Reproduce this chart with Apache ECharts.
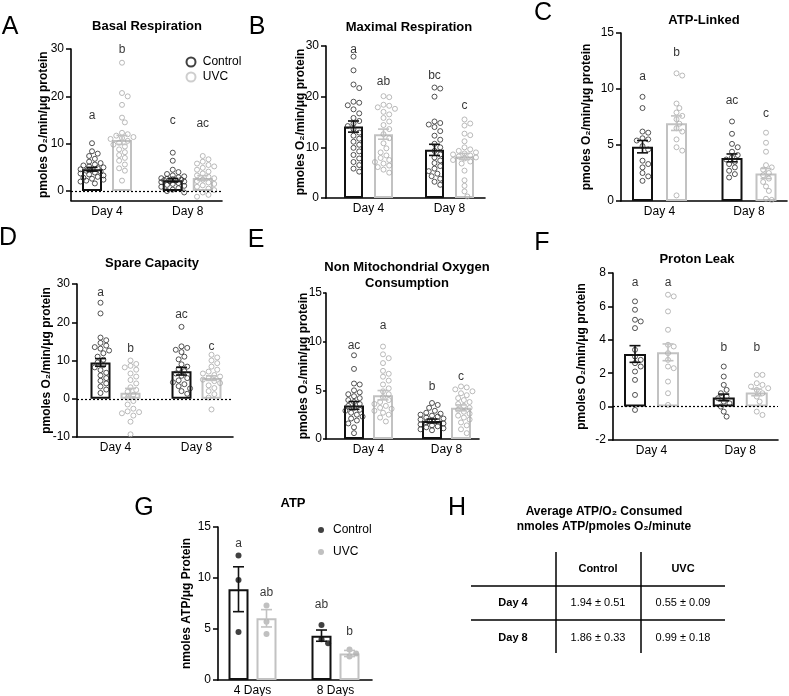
<!DOCTYPE html>
<html><head><meta charset="utf-8">
<script src="https://cdn.jsdelivr.net/npm/echarts@6/dist/echarts.min.js"></script>
<style>html,body{margin:0;padding:0;background:#fff}#c{width:789px;height:696px}</style>
</head><body><div id="c"></div>
<script>
const FONT = '"Liberation Sans", Arial, Helvetica, sans-serif';

// ---------- DATA ----------
const dayLabels = ['Day 4', 'Day 8'];
const atpDayLabels = ['4 Days', '8 Days'];
const seriesNames = ['Control', 'UVC'];
const o2Name = 'pmoles O\u2082/min/\u03bcg protein';
const atpName = 'nmoles ATP/\u03bcg Protein';

// A: Basal Respiration (order: ctrl D4, uvc D4, ctrl D8, uvc D8)
const basalCtrlD4 = [10.1, 8.4, 7.9, 7.4, 6.8, 6.2, 5.9, 5.6, 5.4, 5.2, 5.0, 4.8, 4.6, 4.5, 4.3, 4.1, 3.9, 3.7, 3.5, 3.3, 3.0, 2.8, 2.6, 2.4, 2.2, 2.0, 1.6];
const basalUvcD4 = [27.1, 20.7, 20.0, 18.2, 15.5, 14.5, 12.3, 12.0, 11.7, 11.4, 11.2, 11.0, 10.6, 10.2, 9.8, 9.4, 8.8, 8.2, 7.6, 7.0, 6.4, 5.6, 4.8, 4.3, 2.2];
const basalCtrlD8 = [8.1, 6.4, 4.5, 4.0, 3.6, 3.3, 3.1, 2.9, 2.7, 2.6, 2.5, 2.4, 2.3, 2.2, 2.1, 2.0, 1.9, 1.7, 1.5, 1.3, 1.1, 0.9, 0.6, 0.3, 0.0, -0.3];
const basalUvcD8 = [7.4, 6.7, 6.2, 5.8, 5.5, 5.2, 4.9, 4.5, 4.1, 3.7, 3.3, 3.0, 2.7, 2.4, 2.1, 1.8, 1.5, 1.2, 0.9, 0.5, 0.2, -0.3, -0.8, -1.2];
const basalMean = [4.6, 10.8, 2.3, 2.75];
const basalSem = [0.4, 0.95, 0.35, 0.5];
const basalLetters = ['a', 'b', 'c', 'ac'];
const basalLetterY = [16, 29.8, 14.8, 14.2];
const basalTicks = [0, 10, 20, 30];

// B: Maximal Respiration
const maxCtrlD4 = [27.9, 25.2, 22.4, 21.7, 19.0, 18.8, 18.3, 17.5, 16.7, 15.8, 15.2, 14.7, 14.2, 13.6, 12.9, 12.3, 11.7, 11.1, 10.5, 9.9, 9.2, 8.5, 7.8, 7.1, 6.5, 5.8, 5.2];
const maxUvcD4 = [20.1, 19.9, 18.4, 18.2, 17.9, 17.6, 17.0, 16.5, 15.8, 15.1, 14.4, 13.6, 12.6, 11.8, 10.8, 9.8, 9.0, 8.4, 7.9, 7.5, 7.1, 6.8, 6.4, 6.1, 5.6, 5.0];
const maxCtrlD8 = [21.8, 21.6, 20.0, 15.1, 14.8, 14.5, 14.0, 13.2, 12.3, 11.5, 10.7, 10.0, 9.3, 8.6, 8.0, 7.4, 6.9, 6.3, 5.8, 5.3, 4.8, 4.3, 3.8, 3.2, 2.6];
const maxUvcD8 = [15.5, 14.7, 14.3, 12.7, 12.4, 11.2, 10.0, 9.6, 9.3, 9.0, 8.8, 8.6, 8.4, 8.2, 8.0, 7.8, 7.5, 7.2, 6.8, 5.4, 3.5, 2.4, 1.3, 0.3];
const maxMean = [14.1, 12.6, 9.5, 8.2];
const maxSem = [1.1, 1.0, 1.1, 0.6];
const maxLetters = ['a', 'ab', 'bc', 'c'];
const maxLetterY = [29.2, 22.9, 24.1, 18.2];
const maxTicks = [0, 10, 20, 30];

// C: ATP-Linked
const atplCtrlD4 = [9.3, 8.3, 6.2, 6.1, 5.6, 5.5, 5.4, 4.9, 4.6, 3.6, 3.3, 3.0, 2.5, 2.2, 1.8];
const atplUvcD4 = [11.4, 11.2, 8.7, 8.3, 7.9, 7.6, 7.3, 6.9, 6.5, 6.2, 5.5, 4.8, 4.5, 0.5];
const atplCtrlD8 = [7.1, 6.0, 5.1, 4.8, 4.4, 4.1, 3.9, 3.7, 3.5, 3.3, 3.0, 2.7, 2.4, 2.1];
const atplUvcD8 = [6.1, 5.2, 4.4, 3.2, 3.0, 2.8, 2.5, 2.3, 2.0, 1.7, 1.3, 0.9, 0.2, 0.1];
const atplMean = [4.85, 6.95, 3.85, 2.45];
const atplSem = [0.55, 0.65, 0.35, 0.45];
const atplLetters = ['a', 'b', 'ac', 'c'];
const atplLetterY = [11.1, 13.2, 9.0, 7.8];
const atplTicks = [0, 5, 10, 15];

// D: Spare Capacity
const spareCtrlD4 = [25.1, 22.3, 16.0, 15.3, 14.6, 13.9, 13.5, 13.1, 12.6, 11.9, 11.0, 10.2, 9.5, 8.8, 8.2, 7.5, 6.8, 6.1, 5.4, 4.7, 4.0, 3.2, 2.4, 1.5];
const spareUvcD4 = [10.0, 9.1, 8.6, 8.2, 7.6, 6.6, 5.8, 4.9, 4.0, 3.0, 2.3, 1.8, 1.0, 0.3, -0.6, -1.5, -2.6, -3.3, -3.5, -3.8, -4.4, -6.0, -9.3];
const spareCtrlD8 = [18.8, 13.7, 13.3, 12.8, 12.2, 11.0, 10.3, 9.0, 8.4, 7.8, 7.2, 6.6, 6.0, 5.4, 4.8, 4.3, 3.8, 3.3, 2.7, 2.0, 1.3];
const spareUvcD8 = [11.5, 10.8, 10.0, 9.3, 8.4, 7.6, 7.1, 6.6, 6.2, 5.8, 5.4, 5.0, 4.6, 4.1, 3.5, 2.8, 2.0, 1.2, 0.3, -2.8];
const spareMean = [9.5, 1.6, 7.2, 5.4];
const spareSem = [1.0, 1.1, 1.0, 0.6];
const spareLetters = ['a', 'b', 'ac', 'c'];
const spareLetterY = [27.7, 13.1, 22.0, 13.6];
const spareTicks = [-10, 0, 10, 20, 30];

// E: Non Mitochondrial Oxygen Consumption
const nmCtrlD4 = [8.6, 7.2, 5.7, 5.6, 5.0, 4.8, 4.6, 4.4, 4.2, 4.0, 3.8, 3.6, 3.4, 3.2, 3.0, 2.9, 2.7, 2.5, 2.3, 2.1, 1.9, 1.6, 1.2, 0.6];
const nmUvcD4 = [9.5, 8.7, 8.3, 7.8, 7.0, 6.7, 6.4, 6.0, 5.6, 5.2, 4.9, 4.6, 4.3, 4.0, 3.8, 3.6, 3.4, 3.2, 3.1, 2.9, 2.7, 2.5, 2.2, 1.8];
const nmCtrlD8 = [3.7, 3.5, 3.2, 2.9, 2.7, 2.6, 2.5, 2.4, 2.3, 2.2, 2.1, 2.0, 1.9, 1.8, 1.7, 1.6, 1.5, 1.4, 1.3, 1.2, 1.1, 1.0, 0.9];
const nmUvcD8 = [5.4, 5.3, 5.1, 4.9, 4.7, 4.5, 4.2, 4.0, 3.8, 3.6, 3.4, 3.2, 3.0, 2.8, 2.6, 2.4, 2.2, 2.0, 1.7, 1.4, 1.0, 0.6];
const nmMean = [3.45, 4.5, 1.85, 3.2];
const nmSem = [0.4, 0.48, 0.2, 0.3];
const nmLetters = ['ac', 'a', 'b', 'c'];
const nmLetterY = [9.6, 11.6, 5.4, 6.4];
const nmTicks = [0, 5, 10, 15];

// F: Proton Leak
const plCtrlD4 = [6.3, 5.8, 5.2, 5.1, 4.7, 3.4, 3.0, 2.8, 2.6, 2.4, 2.1, 1.6, 0.7, -0.2];
const plUvcD4 = [6.7, 6.6, 5.7, 4.6, 3.7, 3.6, 3.2, 2.8, 2.4, 2.3, 1.5, 0.8, 0.1];
const plCtrlD8 = [2.4, 1.8, 1.3, 1.0, 0.8, 0.6, 0.5, 0.3, 0.2, 0.0, -0.3, -0.6];
const plUvcD8 = [1.9, 1.9, 1.4, 1.3, 1.2, 1.1, 1.0, 0.8, 0.6, 0.3, -0.3, -0.5];
const plMean = [3.15, 3.25, 0.55, 0.85];
const plSem = [0.5, 0.5, 0.2, 0.2];
const plLetters = ['a', 'a', 'b', 'b'];
const plLetterY = [7.4, 7.4, 3.5, 3.5];
const plTicks = [-2, 0, 2, 4, 6, 8];

// G: ATP
const atpCtrl4 = [12.2, 9.8, 4.7];
const atpUvc4 = [7.3, 5.7, 4.5];
const atpCtrl8 = [5.4, 4.0, 3.6];
const atpUvc8 = [3.0, 2.6, 2.3];
const atpMean = [8.9, 6.05, 4.35, 2.6];
const atpSem = [2.2, 0.85, 0.55, 0.3];
const atpLetters = ['a', 'ab', 'ab', 'b'];
const atpLetterY = [13.4, 8.6, 7.35, 4.7];
const atpTicks = [0, 5, 10, 15];

// H: ATP / O2 table
const tableTitle = ['Average ATP/O\u2082 Consumed', 'nmoles ATP/pmoles O\u2082/minute'];
const tableRows = ['Day 4', 'Day 8'];
const tableCols = ['Control', 'UVC'];
const ratioMean = [[1.94, 0.55], [1.86, 0.99]];
const ratioSem = [[0.51, 0.09], [0.33, 0.18]];

// ---------- LAYOUT ----------
const CTRL_BAR = '#111111', UVC_BAR = '#c2c2c2';
const CTRL_DOT = '#2a2a2a', UVC_DOT = '#a9a9a9';

const panels = [
  { id: 'A', titles: ['Basal Respiration'], titleXY: [147, 26], letterXY: [10, 27],
    grid: { left: 71, top: 49, width: 151, height: 151.5 }, ymin: -2, ymax: 30, ticks: basalTicks,
    x0: 36, x1: 116.75, half: 15, barW: 20, zero: true, yName: o2Name, nameGap: 21, labMargin: 7, tickLen: 5, xLabels: dayLabels,
    groups: [basalCtrlD4, basalUvcD4, basalCtrlD8, basalUvcD8], mean: basalMean, sem: basalSem,
    letters: basalLetters, letterY: basalLetterY, filled: false },
  { id: 'B', titles: ['Maximal Respiration'], titleXY: [409, 27], letterXY: [257, 27],
    grid: { left: 326, top: 46, width: 159, height: 152 }, ymin: 0, ymax: 30, ticks: maxTicks,
    x0: 42.5, x1: 123.5, half: 15, barW: 19, zero: false, yName: o2Name, nameGap: 19, labMargin: 7, tickLen: 5, xLabels: dayLabels,
    groups: [maxCtrlD4, maxUvcD4, maxCtrlD8, maxUvcD8], mean: maxMean, sem: maxSem,
    letters: maxLetters, letterY: maxLetterY, filled: false },
  { id: 'C', titles: ['ATP-Linked'], titleXY: [704, 20], letterXY: [543, 13],
    grid: { left: 621, top: 33, width: 166, height: 168 }, ymin: 0, ymax: 15, ticks: atplTicks,
    x0: 38.5, x1: 128, half: 17, barW: 21, zero: false, yName: o2Name, nameGap: 28.5, labMargin: 7, tickLen: 5, xLabels: dayLabels,
    groups: [atplCtrlD4, atplUvcD4, atplCtrlD8, atplUvcD8], mean: atplMean, sem: atplSem,
    letters: atplLetters, letterY: atplLetterY, filled: false },
  { id: 'D', titles: ['Spare Capacity'], titleXY: [152, 263], letterXY: [8, 238],
    grid: { left: 77, top: 284, width: 156, height: 153 }, ymin: -10, ymax: 30, ticks: spareTicks,
    x0: 38.5, x1: 119.5, half: 15, barW: 20, zero: true, yName: o2Name, nameGap: 24.5, labMargin: 7, tickLen: 5, xLabels: dayLabels,
    groups: [spareCtrlD4, spareUvcD4, spareCtrlD8, spareUvcD8], mean: spareMean, sem: spareSem,
    letters: spareLetters, letterY: spareLetterY, filled: false },
  { id: 'E', titles: ['Non Mitochondrial Oxygen', 'Consumption'], titleXY: [407, 267], letterXY: [256, 240],
    grid: { left: 326, top: 293, width: 153, height: 146 }, ymin: 0, ymax: 15, ticks: nmTicks,
    x0: 42.5, x1: 120.5, half: 14.5, barW: 20, zero: false, yName: o2Name, nameGap: 16, labMargin: 4, tickLen: 3, xLabels: dayLabels,
    groups: [nmCtrlD4, nmUvcD4, nmCtrlD8, nmUvcD8], mean: nmMean, sem: nmSem,
    letters: nmLetters, letterY: nmLetterY, filled: false },
  { id: 'F', titles: ['Proton Leak'], titleXY: [697, 259], letterXY: [542, 243],
    grid: { left: 613, top: 273, width: 165, height: 167 }, ymin: -2, ymax: 8, ticks: plTicks,
    x0: 38.5, x1: 127.25, half: 16.5, barW: 22, zero: true, yName: o2Name, nameGap: 25.5, labMargin: 7, tickLen: 5, xLabels: dayLabels,
    groups: [plCtrlD4, plUvcD4, plCtrlD8, plUvcD8], mean: plMean, sem: plSem,
    letters: plLetters, letterY: plLetterY, filled: false },
  { id: 'G', titles: ['ATP'], titleXY: [293, 503], letterXY: [144, 508],
    grid: { left: 218, top: 527, width: 154, height: 153 }, ymin: 0, ymax: 15, ticks: atpTicks,
    x0: 34.5, x1: 117.5, half: 14, barW: 20, zero: false, yName: atpName, nameGap: 25.5, labMargin: 7, tickLen: 5, xLabels: atpDayLabels,
    groups: [atpCtrl4, atpUvc4, atpCtrl8, atpUvc8], mean: atpMean, sem: atpSem,
    letters: atpLetters, letterY: atpLetterY, filled: true }
];

// simple beeswarm: horizontal pixel offsets so dots do not overlap
function swarm(vals, pxPerY, diam, maxHalf) {
  const order = vals.map((v, i) => i).sort((a, b) => vals[b] - vals[a]);
  const placed = [];
  const out = new Array(vals.length).fill(0);
  const step = diam * 0.55;
  for (const i of order) {
    const y = vals[i] * pxPerY;
    let chosen = null, bestOv = Infinity, bestX = 0;
    for (let k = 0; k <= 30; k++) {
      const mag = Math.ceil(k / 2) * step;
      const x = k === 0 ? 0 : (k % 2 === 1 ? mag : -mag);
      if (Math.abs(x) > maxHalf) break;
      let minD = Infinity;
      for (const p of placed) { const d = Math.hypot(p.x - x, p.y - y); if (d < minD) minD = d; }
      if (minD >= diam) { chosen = x; break; }
      if (diam - minD < bestOv) { bestOv = diam - minD; bestX = x; }
    }
    if (chosen === null) chosen = bestX;
    placed.push({ x: chosen, y: y });
    out[i] = chosen;
  }
  return out;
}

const grids = [], xAxes = [], yAxes = [], series = [], gfx = [];
const axisColor = '#000';

panels.forEach((p, i) => {
  const W = p.grid.width, H = p.grid.height;
  const unit = p.x1 - p.x0;
  const xmin = -p.x0 / unit, xmax = (W - p.x0) / unit;
  const off = p.half / unit;
  const xs = [-off, off, 1 - off, 1 + off];
  const pxPerY = H / (p.ymax - p.ymin);
  const labels = p.xLabels;

  grids.push(Object.assign({ outerBoundsMode: 'none', containLabel: false }, p.grid));
  xAxes.push({
    gridIndex: i, type: 'value', min: xmin, max: xmax,
    axisLine: { show: true, onZero: false, lineStyle: { color: axisColor, width: 1.6 } },
    axisTick: { show: false }, splitLine: { show: false },
    axisLabel: { customValues: [0, 1], formatter: v => (Math.abs(v) < 0.5 ? labels[0] : labels[1]),
      fontSize: 12, color: '#000', fontFamily: FONT, margin: 5 }
  });
  yAxes.push({
    gridIndex: i, type: 'value', min: p.ymin, max: p.ymax,
    axisLine: { show: true, onZero: false, lineStyle: { color: axisColor, width: 1.6 } },
    axisTick: { show: true, length: p.tickLen, customValues: p.ticks, lineStyle: { color: axisColor, width: 1.5 } },
    axisLabel: { customValues: p.ticks, fontSize: 12, color: '#000', fontFamily: FONT, margin: p.labMargin },
    splitLine: { show: false },
    name: p.yName, nameLocation: 'middle', nameRotate: 90, nameGap: p.nameGap, nameMoveOverlap: false,
    nameTextStyle: { fontSize: 12, fontWeight: 'bold', color: '#000', fontFamily: FONT }
  });

  // bars (means)
  const bar = {
    type: 'bar', xAxisIndex: i, yAxisIndex: i, barWidth: p.barW, z: 2, silent: true,
    data: p.mean.map((m, k) => ({ value: [xs[k], m],
      itemStyle: { color: 'rgba(255,255,255,0)', borderColor: k % 2 === 0 ? CTRL_BAR : UVC_BAR, borderWidth: 2 } }))
  };
  if (p.zero) {
    bar.markLine = { silent: true, symbol: ['none', 'none'], label: { show: false },
      lineStyle: { type: [2, 2], color: '#000', width: 1.2 }, data: [{ yAxis: 0 }] };
  }
  series.push(bar);

  // individual points
  const diam = p.filled ? 6 : 5.2;
  [0, 1].forEach(g => {
    const data = [];
    [g, g + 2].forEach(k => {
      const vals = p.groups[k];
      const offs = swarm(vals, pxPerY, diam, p.barW * 0.62);
      vals.forEach((v, j) => data.push([xs[k] + offs[j] / unit, v]));
    });
    const col = g === 0 ? CTRL_DOT : UVC_DOT;
    series.push({
      type: 'scatter', name: seriesNames[g], xAxisIndex: i, yAxisIndex: i, z: 3, silent: true,
      symbol: 'circle', symbolSize: p.filled ? 6 : 5,
      itemStyle: p.filled ? { color: g === 0 ? '#111' : '#b0b0b0', borderWidth: 0 }
                          : { color: 'rgba(255,255,255,0)', borderColor: col, borderWidth: 1 },
      data: data
    });
  });

  // SEM error bars
  series.push({
    type: 'custom', xAxisIndex: i, yAxisIndex: i, z: 4, silent: true,
    data: p.mean.map((m, k) => [xs[k], m, p.sem[k]]),
    renderItem: (params, api) => {
      const x = api.value(0), m = api.value(1), s = api.value(2);
      const t = api.coord([x, m + s]), b = api.coord([x, m - s]);
      const col = params.dataIndex % 2 === 0 ? CTRL_BAR : UVC_BAR;
      const cap = 5.5, st = { stroke: col, lineWidth: 1.6 };
      return { type: 'group', children: [
        { type: 'line', shape: { x1: t[0], y1: t[1], x2: b[0], y2: b[1] }, style: st },
        { type: 'line', shape: { x1: t[0] - cap, y1: t[1], x2: t[0] + cap, y2: t[1] }, style: st },
        { type: 'line', shape: { x1: b[0] - cap, y1: b[1], x2: b[0] + cap, y2: b[1] }, style: st }
      ] };
    }
  });

  // significance letters
  series.push({
    type: 'scatter', xAxisIndex: i, yAxisIndex: i, z: 5, silent: true,
    symbol: 'circle', symbolSize: 0.1, itemStyle: { color: 'rgba(0,0,0,0)' },
    label: { show: true, position: 'inside', formatter: '{b}', fontSize: 12, color: '#000', fontFamily: FONT },
    data: p.letters.map((L, k) => ({ name: L, value: [xs[k], p.letterY[k]] }))
  });

  // panel letter + title
  gfx.push({ type: 'text', x: p.letterXY[0], y: p.letterXY[1],
    style: { text: p.id, font: '25px ' + FONT, fill: '#000', align: 'center', verticalAlign: 'middle', textAlign: 'center', textVerticalAlign: 'middle' } });
  p.titles.forEach((t, k) => {
    gfx.push({ type: 'text', x: p.titleXY[0], y: p.titleXY[1] + k * 16,
      style: { text: t, font: 'bold 13px ' + FONT, fill: '#000', align: 'center', verticalAlign: 'middle', textAlign: 'center', textVerticalAlign: 'middle' } });
  });
});

// Panel H (table)
function txt(t, x, y, font) {
  return { type: 'text', x: x, y: y, style: { text: t, font: font, fill: '#000', align: 'center', verticalAlign: 'middle', textAlign: 'center', textVerticalAlign: 'middle' } };
}
gfx.push(txt('H', 457, 508, '25px ' + FONT));
tableTitle.forEach((t, k) => gfx.push(txt(t, 604, 512 + k * 15, 'bold 12px ' + FONT)));
const colX = [598, 683], rowY = [603, 638];
tableCols.forEach((c, k) => gfx.push(txt(c, colX[k], 569, 'bold 11px ' + FONT)));
tableRows.forEach((r, k) => {
  gfx.push(txt(r, 513, rowY[k], 'bold 11px ' + FONT));
  tableCols.forEach((c, j) => gfx.push(txt(ratioMean[k][j].toFixed(2) + ' \u00b1 ' + ratioSem[k][j].toFixed(2), colX[j], rowY[k], '11px ' + FONT)));
});
[[556, 552, 556, 653], [641, 552, 641, 653], [471, 586, 725, 586], [471, 620, 725, 620]].forEach(s => {
  gfx.push({ type: 'line', shape: { x1: s[0], y1: s[1], x2: s[2], y2: s[3] }, style: { stroke: '#000', lineWidth: 1.5 } });
});

const legends = [
  { left: 185.5, top: 56, orient: 'vertical', padding: 0, itemWidth: 13.5, itemHeight: 9, itemGap: 3,
    textStyle: { fontSize: 12, color: '#000', fontFamily: FONT },
    data: [
      { name: 'Control', icon: 'circle', itemStyle: { color: '#fff', borderColor: CTRL_BAR, borderWidth: 2 } },
      { name: 'UVC', icon: 'circle', itemStyle: { color: '#fff', borderColor: UVC_BAR, borderWidth: 2 } }
    ] },
  { left: 318, top: 524, orient: 'vertical', padding: 0, itemWidth: 14, itemHeight: 6, itemGap: 10,
    textStyle: { fontSize: 12, color: '#000', fontFamily: FONT },
    data: [
      { name: 'Control', icon: 'circle', itemStyle: { color: '#111', borderWidth: 0 } },
      { name: 'UVC', icon: 'circle', itemStyle: { color: '#b0b0b0', borderWidth: 0 } }
    ] }
];

const chart = echarts.init(document.getElementById('c'), null, { renderer: 'canvas' });
chart.setOption({
  animation: false,
  backgroundColor: '#fff',
  textStyle: { fontFamily: FONT },
  grid: grids, xAxis: xAxes, yAxis: yAxes, series: series,
  legend: legends,
  graphic: { elements: gfx }
});
</script></body></html>
